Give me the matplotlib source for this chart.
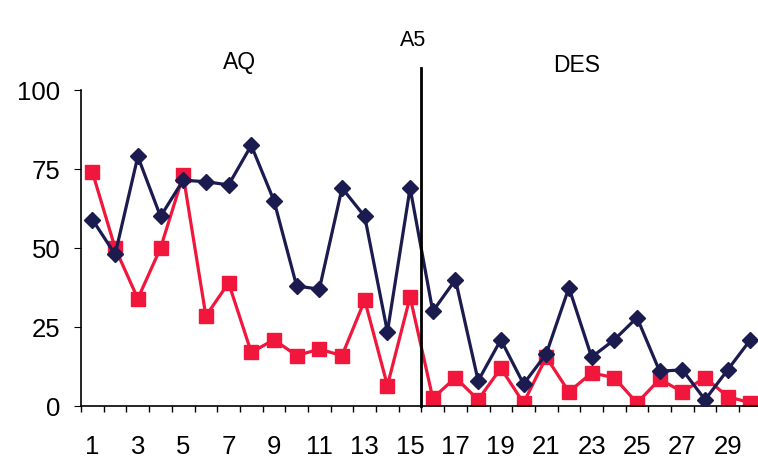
import matplotlib.pyplot as plt
import numpy as np

plt.rcParams['font.family'] = ['Liberation Sans', 'DejaVu Sans']

# data
x = list(range(1, 31))
blue = [59, 48, 79, 60, 71.5, 71, 70, 82.5, 65, 38, 37, 69, 60, 23.5, 69,
        30, 40, 8, 21, 7, 16.5, 37.5, 15.5, 21, 28, 11, 11.5, 2, 11.5, 21]
red = [74, 50, 34, 50, 73, 28.5, 39, 17, 21, 16, 18, 16, 33.5, 6.5, 34.5,
       2.5, 9, 2, 12, 1, 15.5, 4.5, 10.5, 9, 1, 8.5, 4.5, 9, 3, 1]
xlabels = [str(i) for i in range(1, 30, 2)]

fig = plt.figure(figsize=(7.58, 4.62), dpi=100)
ax = fig.add_axes([0.107, 0.121, 0.898, 0.684])

ax.plot(x, blue, '-', color='#1b1b4f', lw=2.3, marker='D', ms=8.5, zorder=3)
ax.plot(x, red, '-', color='#f0163c', lw=2.3, marker='s', ms=9.5, zorder=2)

# divider between AQ and DES
ax.plot([15.5, 15.5], [0, 107], color='black', lw=2, clip_on=False, zorder=4)

ax.set_xlim(0.5, 30.5)
ax.set_ylim(0, 100)
ax.set_yticks([0, 25, 50, 75, 100])
ax.set_xticks(range(1, 30, 2))
ax.set_xticklabels(xlabels)
ax.set_xticks(np.arange(0.5, 31, 1), minor=True)
ax.tick_params(axis='x', which='major', length=0, pad=21, labelsize=18.5)
ax.tick_params(axis='x', which='minor', length=4, direction='out', width=1)
ax.tick_params(axis='y', length=5, pad=10, labelsize=18.5)

for s in ['top', 'right']:
    ax.spines[s].set_visible(False)
ax.spines['left'].set_linewidth(1.2)
ax.spines['bottom'].set_linewidth(1.2)

fig.text(413 / 758, 1 - 40 / 462, 'A5', ha='center', va='center', fontsize=15.5)
fig.text(240 / 758, 1 - 62 / 462, 'AQ', ha='center', va='center', fontsize=16.5)
fig.text(577 / 758, 1 - 66 / 462, 'DES', ha='center', va='center', fontsize=16.5)

fig.savefig('out.png', dpi=100)
